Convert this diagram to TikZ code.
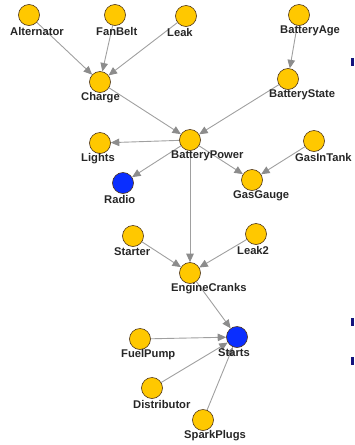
\documentclass[tikz,border=0pt]{standalone}
\usepackage{fontspec}
\setmainfont{Liberation Sans}
\usetikzlibrary{arrows.meta,calc,backgrounds}
\definecolor{gold}{HTML}{FFC800}
\definecolor{bnblue}{HTML}{0A2EFF}
\definecolor{edgec}{HTML}{A0A0A0}
\definecolor{tipc}{HTML}{8C8C8C}
\definecolor{navy}{HTML}{14147E}
\tikzset{
  bnode/.style={circle,draw=black!60!brown,line width=0.6pt,minimum size=21pt,inner sep=0pt},
  lab/.style={anchor=west,inner sep=0pt,font=\bfseries\fontsize{11.2}{12}\selectfont,text=black!85},
  edge/.style={draw=edgec,line width=0.9pt,-{Triangle[length=8.5pt,width=7.5pt,fill=tipc,color=tipc]}},
  bullet/.style={fill=navy,draw=none}
}
\newcommand\bnn[4]{%
  \node[bnode,fill=#4] (#1) at (#2) {};
  \node[lab] (#1-l) at ($(#1)+(-19,16)$) {#3};}
\begin{document}
\begin{tikzpicture}[x=1pt,y=-1pt]
\useasboundingbox (0,0) rectangle (354,445);
\bnn{alt}{29,15}{Alternator}{gold}
\bnn{fan}{115,15}{FanBelt}{gold}
\bnn{leak}{186,16}{Leak}{gold}
\bnn{bage}{299,15}{BatteryAge}{gold}
\bnn{charge}{100,82}{Charge}{gold}
\bnn{bstate}{288,79}{BatteryState}{gold}
\bnn{bpower}{190,140}{BatteryPower}{gold}
\bnn{lights}{100,143}{Lights}{gold}
\bnn{radio}{123,183}{Radio}{bnblue}
\bnn{gtank}{314,141}{GasInTank}{gold}
\bnn{ggauge}{252,180}{GasGauge}{gold}
\bnn{starter}{133,236}{Starter}{gold}
\bnn{leak2}{256,234}{Leak2}{gold}
\bnn{ecranks}{190,273}{EngineCranks}{gold}
\bnn{starts}{237,337}{Starts}{bnblue}
\bnn{fpump}{140,339}{FuelPump}{gold}
\bnn{dist}{152,388}{Distributor}{gold}
\bnn{splugs}{203,420}{SparkPlugs}{gold}
\begin{scope}[on background layer]
\path[edge] (alt) -- (charge);
\path[edge] (fan) -- (charge);
\path[edge] (leak) -- (charge);
\path[edge] (bage) -- (bstate);
\path[edge] (charge) -- (bpower);
\path[edge] (bstate) -- (bpower);
\path[edge] (bpower) -- (lights);
\path[edge] (bpower) -- (radio);
\path[edge] (bpower) -- (ggauge);
\path[edge] (gtank) -- (ggauge);
\path[edge] (bpower) -- (ecranks);
\path[edge] (starter) -- (ecranks);
\path[edge] (leak2) -- (ecranks);
\path[edge] (ecranks) -- (starts);
\path[edge] (fpump) -- (starts);
\path[edge] (dist) -- (starts);
\path[edge] (splugs) -- (starts);
\end{scope}
\fill[bullet] (350.5,58) rectangle (354,66);
\fill[bullet] (350.5,318) rectangle (354,326);
\fill[bullet] (350.5,357) rectangle (354,365);
\end{tikzpicture}
\end{document}
